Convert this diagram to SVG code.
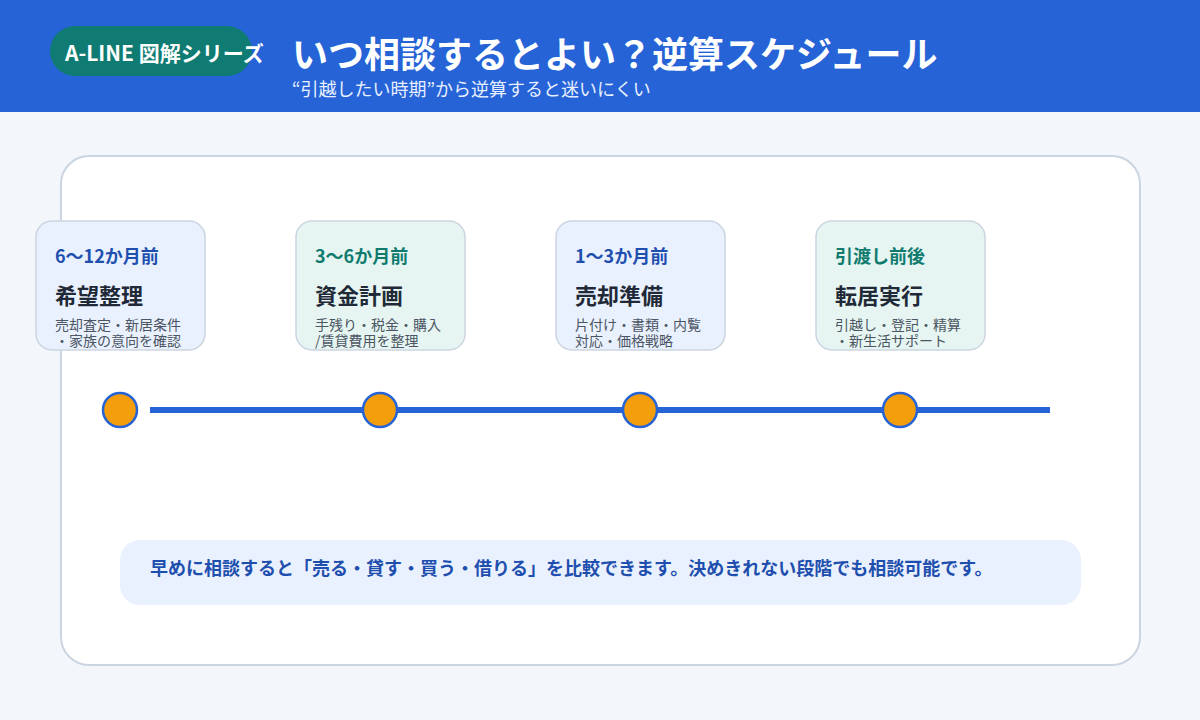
<svg xmlns="http://www.w3.org/2000/svg" width="1200" height="720" viewBox="0 0 1200 720">
  <style>
    text { font-family: "Noto Sans CJK JP", "Noto Sans", sans-serif; }
    .card { stroke: #cbd5e1; stroke-width: 1.5; }
    .blue { fill: #eaf1fe; }
    .teal { fill: #e6f5f1; }
    .lblB { fill: #1e4fae; font-size: 18px; font-weight: 700; }
    .lblT { fill: #0f7b6f; font-size: 18px; font-weight: 700; }
    .ttl { fill: #1f2937; font-size: 22px; font-weight: 700; }
    .desc { fill: #4b5563; font-size: 14px; }
    .dot { fill: #f59e0b; stroke: #2563d6; stroke-width: 2.5; }
  </style>
  <rect x="0" y="0" width="1200" height="720" fill="#f3f6fb"/>
  <rect x="0" y="0" width="1200" height="112" fill="#2563d6"/>
  <g id="badge">
    <rect x="50" y="26" width="202" height="50" rx="25" fill="#0f7b72"/>
    <text x="65" y="61" font-size="21" font-weight="700" fill="#ffffff">A-LINE 図解シリーズ</text>
  </g>
  <text x="292" y="68" font-size="36" font-weight="700" fill="#ffffff">いつ相談するとよい？逆算スケジュール</text>
  <text x="292" y="96" font-size="18" fill="#e8efff">“引越したい時期”から逆算すると迷いにくい</text>

  <rect x="61" y="156" width="1079" height="509" rx="28" fill="#ffffff" stroke="#cbd5e1" stroke-width="2"/>

  <g id="connectors">
    <line x1="150" y1="410" x2="1050" y2="410" stroke="#2563d6" stroke-width="6"/>
  </g>

  <g id="step1">
    <rect class="card blue" x="36" y="221" width="169" height="129" rx="16"/>
    <text class="lblB" x="55" y="263">6〜12か月前</text>
    <text class="ttl" x="55" y="304">希望整理</text>
    <text class="desc" x="55" y="330">売却査定・新居条件</text>
    <text class="desc" x="55" y="346">・家族の意向を確認</text>
    <circle class="dot" cx="120" cy="410" r="17"/>
  </g>
  <g id="step2">
    <rect class="card teal" x="296" y="221" width="169" height="129" rx="16"/>
    <text class="lblT" x="315" y="263">3〜6か月前</text>
    <text class="ttl" x="315" y="304">資金計画</text>
    <text class="desc" x="315" y="330">手残り・税金・購入</text>
    <text class="desc" x="315" y="346">/賃貸費用を整理</text>
    <circle class="dot" cx="380" cy="410" r="17"/>
  </g>
  <g id="step3">
    <rect class="card blue" x="556" y="221" width="169" height="129" rx="16"/>
    <text class="lblB" x="575" y="263">1〜3か月前</text>
    <text class="ttl" x="575" y="304">売却準備</text>
    <text class="desc" x="575" y="330">片付け・書類・内覧</text>
    <text class="desc" x="575" y="346">対応・価格戦略</text>
    <circle class="dot" cx="640" cy="410" r="17"/>
  </g>
  <g id="step4">
    <rect class="card teal" x="816" y="221" width="169" height="129" rx="16"/>
    <text class="lblT" x="835" y="263">引渡し前後</text>
    <text class="ttl" x="835" y="304">転居実行</text>
    <text class="desc" x="835" y="330">引越し・登記・精算</text>
    <text class="desc" x="835" y="346">・新生活サポート</text>
    <circle class="dot" cx="900" cy="410" r="17"/>
  </g>

  <g id="note">
    <rect x="120" y="540" width="961" height="65" rx="20" fill="#eaf1fe"/>
    <text x="150" y="575" font-size="18" font-weight="700" fill="#1e4fae">早めに相談すると「売る・貸す・買う・借りる」を比較できます。決めきれない段階でも相談可能です。</text>
  </g>
</svg>
